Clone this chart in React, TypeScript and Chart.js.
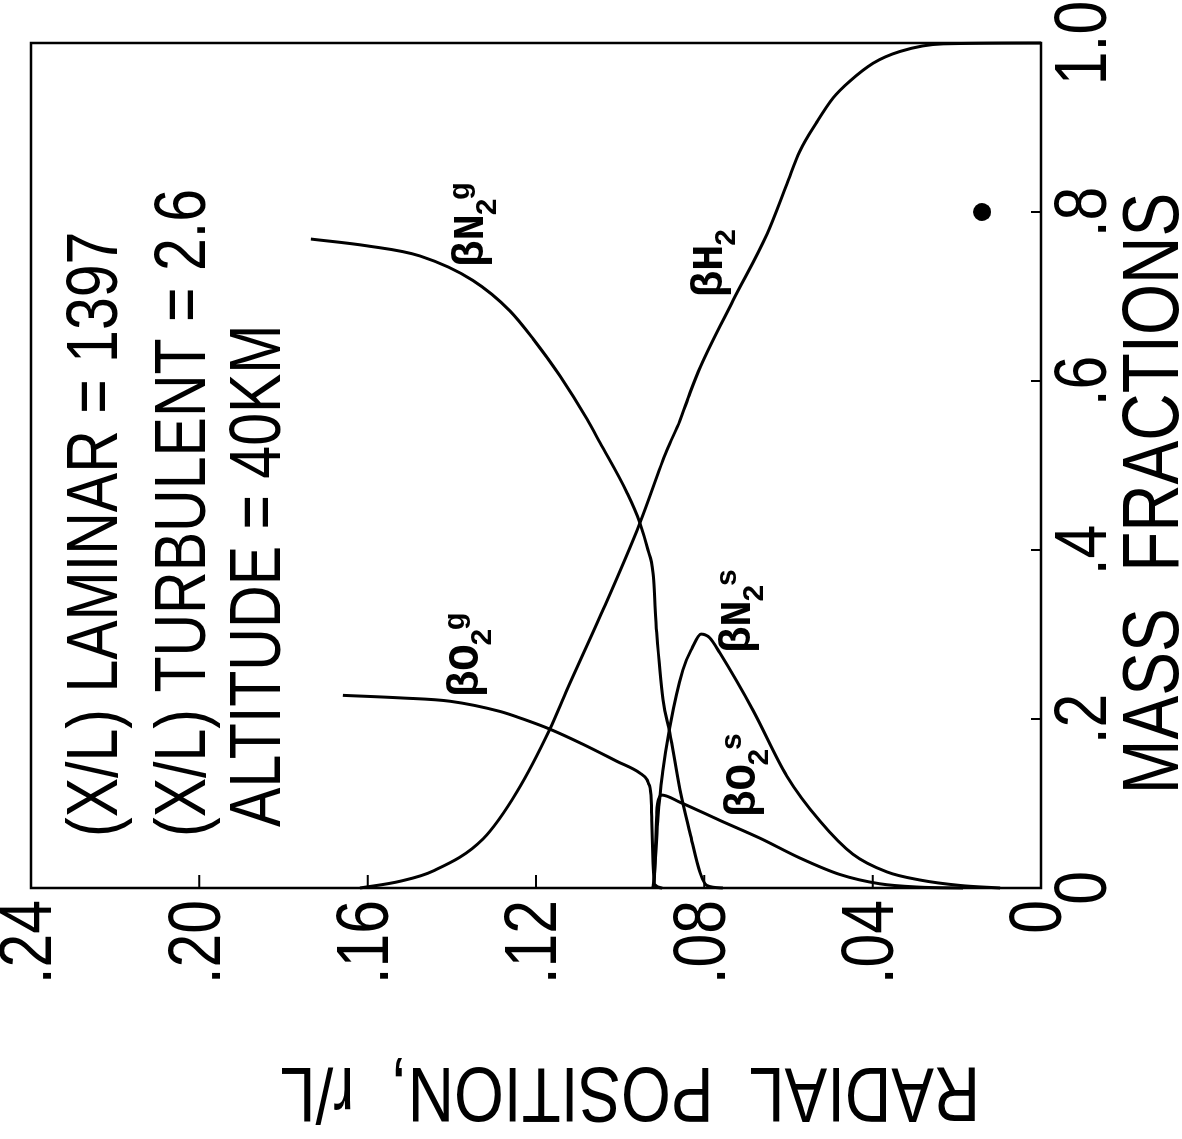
import React, { useEffect, useRef } from 'react';
import { Chart, registerables } from 'chart.js';

Chart.register(...registerables);

// ---- Tick values / labels ----
const radialTickValues = [0, 0.04, 0.08, 0.12, 0.16, 0.2, 0.24];
const radialTickLabels = ['0', '.04', '.08', '.12', '.16', '.20', '.24'];
const massTickValues = [0, 0.2, 0.4, 0.6, 0.8, 1.0];
const massTickLabels = ['0', '.2', '.4', '.6', '.8', '1.0'];

// ---- Series: radial position r/L and mass fraction ----
const h2R = [0, 0.0233, 0.0335, 0.0399, 0.0454, 0.0494, 0.0532, 0.0573, 0.0604, 0.0651, 0.0732, 0.081, 0.0834, 0.0858, 0.0889, 0.0953, 0.1048, 0.1126, 0.1167, 0.1245, 0.1326, 0.1445, 0.1523, 0.1618];
const h2F = [1.0, 0.999, 0.99, 0.976, 0.955, 0.935, 0.907, 0.872, 0.833, 0.774, 0.695, 0.616, 0.586, 0.553, 0.518, 0.432, 0.321, 0.235, 0.188, 0.114, 0.058, 0.02, 0.008, 0.0];

const n2gR = [0.0756, 0.0794, 0.081, 0.0834, 0.0858, 0.0882, 0.0898, 0.0913, 0.0922, 0.0934, 0.0953, 0.0984, 0.1048, 0.1079, 0.1143, 0.1207, 0.1262, 0.135, 0.1476, 0.1602, 0.1735];
const n2gF = [0.0, 0.003, 0.018, 0.065, 0.116, 0.184, 0.223, 0.302, 0.373, 0.4, 0.432, 0.468, 0.527, 0.555, 0.606, 0.65, 0.683, 0.719, 0.748, 0.76, 0.768];

const o2gR = [0.09, 0.0918, 0.0922, 0.0925, 0.0927, 0.0933, 0.0936, 0.0953, 0.1008, 0.1088, 0.1167, 0.1231, 0.1286, 0.1404, 0.1523, 0.1659];
const o2gF = [0.0, 0.004, 0.03, 0.08, 0.11, 0.124, 0.128, 0.136, 0.15, 0.17, 0.188, 0.2, 0.209, 0.221, 0.225, 0.228];

const n2sR = [0.0097, 0.0192, 0.0288, 0.0366, 0.0447, 0.0525, 0.0604, 0.0684, 0.0763, 0.0787, 0.0808, 0.0829, 0.0851, 0.0882, 0.0898, 0.091, 0.0917, 0.0922];
const n2sF = [0.0, 0.003, 0.0095, 0.019, 0.04, 0.079, 0.1325, 0.21, 0.278, 0.296, 0.3005, 0.284, 0.258, 0.19, 0.14, 0.084, 0.025, 0.0];

const o2sR = [0.0185, 0.0288, 0.0383, 0.0478, 0.0573, 0.0668, 0.0763, 0.0858, 0.0901, 0.0908, 0.0913, 0.0916, 0.0919, 0.0922];
const o2sF = [0.0, 0.001, 0.005, 0.016, 0.0355, 0.059, 0.08, 0.1015, 0.11, 0.106, 0.09, 0.05, 0.01, 0.0];

const pointR = [0.014];
const pointF = [0.8];

// ---- Text ----
const xTitle = 'MASS  FRACTIONS';
const yTitle = 'RADIAL  POSITION,  r/L';
const annotations = [
  { text: '(X/L) LAMINAR = 1397', f: 0.0604, r: 0.2196 },
  { text: '(X/L) TURBULENT = 2.6', f: 0.0604, r: 0.1987 },
  { text: 'ALTITUDE = 40KM', f: 0.0722, r: 0.1808 },
];
const curveLabels = [
  { main: 'βN', sub: '2', sup: 'g', f: 0.735, r: 0.1326 },
  { main: 'βH', sub: '2', sup: '', f: 0.699, r: 0.0758 },
  { main: 'βO', sub: '2', sup: 'g', f: 0.226, r: 0.1338 },
  { main: 'βN', sub: '2', sup: 's', f: 0.278, r: 0.0692 },
  { main: 'βO', sub: '2', sup: 's', f: 0.084, r: 0.068 },
];

const FONT = "'Liberation Sans', Arial, sans-serif";
const MONO = "'Liberation Mono', 'DejaVu Sans Mono', monospace";
const NARROW = 0.82; // lettering-guide style: condensed sans

const mk = (r: number[], f: number[]) => r.map((rv, i) => ({ x: f[i], y: rv }));

const overlay = {
  id: 'overlay',
  afterDraw(chart: any) {
    const { ctx, chartArea: a } = chart;
    const sx = chart.scales.x;
    const sy = chart.scales.y;
    ctx.save();
    ctx.strokeStyle = '#000';
    ctx.fillStyle = '#000';
    ctx.lineWidth = 2.5;
    ctx.strokeRect(a.left, a.top, a.right - a.left, a.bottom - a.top);
    ctx.lineWidth = 2;
    ctx.beginPath();
    massTickValues.forEach((v) => {
      if (v <= 0 || v >= 1) return;
      const p = sx.getPixelForValue(v);
      ctx.moveTo(p, a.bottom);
      ctx.lineTo(p, a.bottom - 10);
    });
    radialTickValues.forEach((v) => {
      if (v <= 0 || v >= 0.24) return;
      const p = sy.getPixelForValue(v);
      ctx.moveTo(a.left, p);
      ctx.lineTo(a.left + 13, p);
    });
    ctx.stroke();

    ctx.textAlign = 'left';
    ctx.textBaseline = 'alphabetic';
    ctx.font = `72px ${FONT}`;
    annotations.forEach((t) => {
      ctx.fillText(t.text, sx.getPixelForValue(t.f), sy.getPixelForValue(t.r));
    });

    curveLabels.forEach((l) => {
      const x = sx.getPixelForValue(l.f);
      const y = sy.getPixelForValue(l.r);
      ctx.font = `bold 44px ${MONO}`;
      ctx.fillText(l.main, x, y);
      const w = ctx.measureText(l.main).width;
      ctx.font = `bold 30px ${MONO}`;
      ctx.fillText(l.sub, x + w - 2, y + 13);
      if (l.sup) {
        const ws = ctx.measureText(l.sub).width;
        ctx.fillText(l.sup, x + w + ws * 0.75, y - 14);
      }
    });

    ctx.font = `80px ${FONT}`;
    ctx.textAlign = 'center';
    ctx.fillText(xTitle, (a.left + a.right) / 2 - 28, sx.bottom - 4);

    ctx.save();
    ctx.font = `78px ${FONT}`;
    ctx.translate(sy.left + 71, (a.top + a.bottom) / 2 + 94);
    ctx.rotate(-Math.PI / 2);
    ctx.textAlign = 'center';
    ctx.fillText(yTitle, 0, 0);
    ctx.restore();

    ctx.restore();
  },
};

export default function App() {
  const ref = useRef<HTMLCanvasElement | null>(null);
  useEffect(() => {
    document.body.style.overflow = 'hidden';
    document.documentElement.style.overflow = 'hidden';
    const canvas = ref.current;
    if (!canvas) return;
    const c2d: any = canvas.getContext('2d');
    const origFill = c2d.fillText;
    // condense the sans lettering along the reading direction
    c2d.fillText = function (text: string, x: number, y: number, maxWidth?: number) {
      const f = String(this.font);
      if (f.indexOf('Liberation Sans') >= 0) {
        this.save();
        this.translate(x, y);
        this.scale(NARROW, 1);
        if (maxWidth === undefined || maxWidth === null) origFill.call(this, text, 0, 0);
        else origFill.call(this, text, 0, 0, maxWidth / NARROW);
        this.restore();
      } else if (maxWidth === undefined || maxWidth === null) {
        origFill.call(this, text, x, y);
      } else {
        origFill.call(this, text, x, y, maxWidth);
      }
    };
    const lineStyle = {
      showLine: true,
      borderColor: '#000',
      borderWidth: 3,
      pointRadius: 0,
      cubicInterpolationMode: 'monotone' as const,
      fill: false,
      clip: false as any,
    };
    const chart = new Chart(canvas, {
      type: 'scatter',
      data: {
        datasets: [
          { label: 'βH2', data: mk(h2R, h2F), ...lineStyle },
          { label: 'βN2g', data: mk(n2gR, n2gF), ...lineStyle },
          { label: 'βO2g', data: mk(o2gR, o2gF), ...lineStyle },
          { label: 'βN2s', data: mk(n2sR, n2sF), ...lineStyle },
          { label: 'βO2s', data: mk(o2sR, o2sF), ...lineStyle },
          {
            label: 'point',
            data: mk(pointR, pointF),
            showLine: false,
            pointRadius: 9,
            pointBackgroundColor: '#000',
            pointBorderWidth: 0,
            clip: false as any,
          },
        ],
      },
      options: {
        animation: false,
        responsive: false,
        indexAxis: 'y',
        events: [],
        layout: { padding: { left: 0, top: 31, right: 43, bottom: 0 } },
        plugins: { legend: { display: false }, tooltip: { enabled: false } },
        scales: {
          x: {
            type: 'linear',
            position: 'bottom',
            min: 0,
            max: 1,
            afterBuildTicks: (s: any) => {
              s.ticks = massTickValues.map((v) => ({ value: v }));
            },
            afterFit: (s: any) => {
              s.height = 141;
              s.paddingLeft = 0;
              s.paddingRight = 0;
              s.paddingTop = 0;
              s.paddingBottom = 0;
            },
            ticks: {
              callback: (v: any) => {
                const i = massTickValues.indexOf(Number(v));
                return i >= 0 ? massTickLabels[i] : '';
              },
              font: { family: FONT, size: 74 },
              color: '#000',
              padding: 0,
              maxRotation: 0,
              minRotation: 0,
              autoSkip: false,
            },
            grid: { display: false, drawTicks: false },
            border: { display: false },
          },
          y: {
            type: 'linear',
            position: 'left',
            min: 0,
            max: 0.24,
            afterBuildTicks: (s: any) => {
              s.ticks = radialTickValues.map((v) => ({ value: v }));
            },
            afterFit: (s: any) => {
              s.width = 251;
              s.paddingLeft = 0;
              s.paddingRight = 0;
              s.paddingTop = 0;
              s.paddingBottom = 0;
            },
            ticks: {
              callback: (v: any) => {
                const i = radialTickValues.indexOf(Number(v));
                return i >= 0 ? radialTickLabels[i] : '';
              },
              font: { family: FONT, size: 74 },
              color: '#000',
              padding: 12,
              autoSkip: false,
            },
            grid: { display: false, drawTicks: false },
            border: { display: false },
          },
        },
      },
      plugins: [overlay],
    } as any);
    return () => {
      chart.destroy();
      c2d.fillText = origFill;
    };
  }, []);

  return (
    <div
      style={{
        position: 'absolute',
        left: 0,
        top: 0,
        width: 1139,
        height: 1182,
        background: '#fff',
        transformOrigin: '0 0',
        transform: 'translateY(1139px) rotate(-90deg)',
      }}
    >
      <canvas ref={ref} width={1139} height={1182} style={{ display: 'block', width: 1139, height: 1182 }} />
    </div>
  );
}
